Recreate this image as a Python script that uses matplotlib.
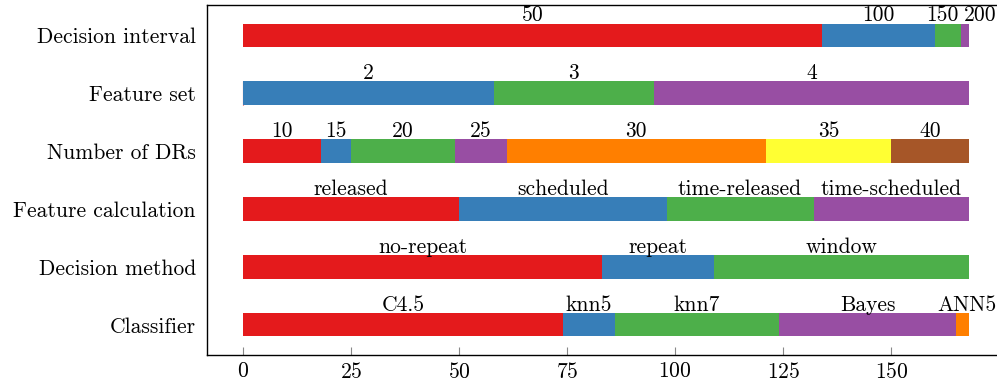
import matplotlib
matplotlib.use("Agg")
import matplotlib.pyplot as plt

plt.rcParams['font.family'] = ['cmr10', 'DejaVu Serif']
plt.rcParams['axes.formatter.use_mathtext'] = True

# parameter groups, top to bottom
groups = ['Decision interval', 'Feature set', 'Number of DRs',
          'Feature calculation', 'Decision method', 'Classifier']

# option names and counts for each group
interval_opts = ['50', '100', '150', '200']
interval_vals = [134, 26, 6, 2]

featset_opts = ['1', '2', '3', '4']
featset_vals = [0, 58, 37, 73]

drs_opts = ['10', '15', '20', '25', '30', '35', '40']
drs_vals = [18, 7, 24, 12, 60, 29, 18]

featcalc_opts = ['released', 'scheduled', 'time-released', 'time-scheduled']
featcalc_vals = [50, 48, 34, 36]

method_opts = ['no-repeat', 'repeat', 'window']
method_vals = [83, 26, 59]

clf_opts = ['C4.5', 'knn5', 'knn7', 'Bayes', 'ANN5']
clf_vals = [74, 12, 38, 41, 3]

rows = [(interval_opts, interval_vals), (featset_opts, featset_vals),
        (drs_opts, drs_vals), (featcalc_opts, featcalc_vals),
        (method_opts, method_vals), (clf_opts, clf_vals)]

# Set1 colours
colors = ['#e41a1c', '#377eb8', '#4daf4a', '#984ea3', '#ff7f00', '#ffff33', '#a65628']

# nudge a few crowded labels sideways (points)
nudge = {('Decision interval', '150'): -4, ('Decision interval', '200'): 11,
         ('Classifier', 'ANN5'): 3}

fig = plt.figure(figsize=(9.97, 3.83), dpi=100)
ax = fig.add_axes([207 / 997, 28 / 383, 792 / 997, 350 / 383])

bar_h = 0.4
fs = 15.5
for i, (opts, vals) in enumerate(rows):
    left = 0
    for j, (name, v) in enumerate(zip(opts, vals)):
        c = colors[j % len(colors)]
        if v == 0:
            ax.barh(i, v, left=left, height=bar_h, color=c, edgecolor=c, linewidth=0.8)
        else:
            ax.barh(i, v, left=left, height=bar_h, color=c, linewidth=0)
            dx = nudge.get((groups[i], name), 0)
            ax.annotate(name, (left + v / 2, i - bar_h / 2), xytext=(dx, 1.5),
                        textcoords='offset points', ha='center', va='baseline',
                        fontsize=fs)
        left += v

ax.set_yticks(range(len(groups)))
ax.set_yticklabels(groups, fontsize=fs)
ax.set_ylim(len(groups) - 0.48, -0.52)
ax.set_xlim(-8.33, 174.9)
ax.set_xticks([0, 25, 50, 75, 100, 125, 150])
ax.tick_params(axis='x', direction='in', length=6, color='#888888', labelsize=fs, pad=5)
ax.tick_params(axis='y', length=0, pad=8)
ax.spines['right'].set_visible(False)
for s in ax.spines.values():
    s.set_linewidth(1.0)

fig.savefig('out.png', dpi=100)
